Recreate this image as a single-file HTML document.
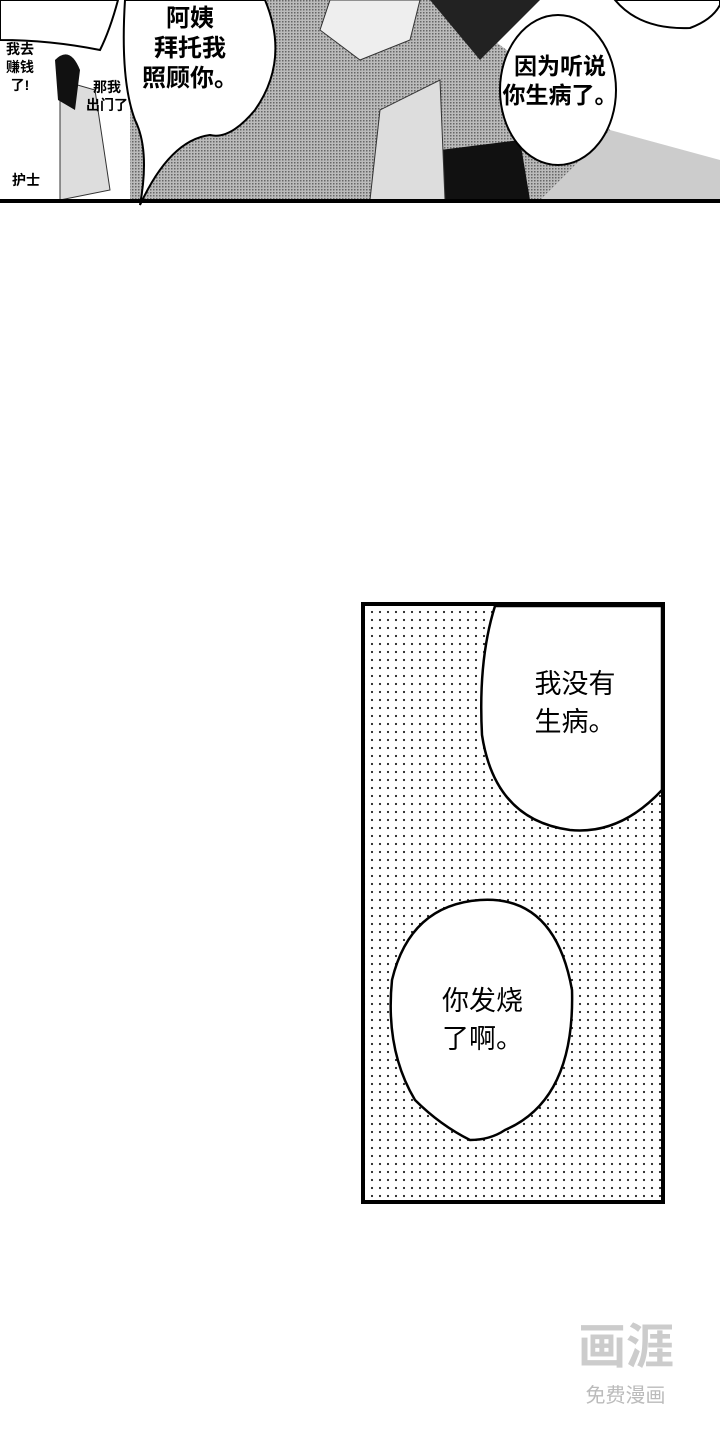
<!DOCTYPE html>
<html><head><meta charset="utf-8"><style>
body{margin:0;width:720px;height:1440px;background:#fff;position:relative;overflow:hidden;font-family:"Liberation Sans","Noto Sans CJK SC",sans-serif}
.t{position:absolute;color:#000;font-weight:bold;text-align:center;line-height:1.25;white-space:nowrap}
</style></head><body>
<svg width="720" height="1440" style="position:absolute;left:0;top:0">
<defs>
<pattern id="g" width="3" height="3" patternUnits="userSpaceOnUse"><rect width="3" height="3" fill="#bbb"/><rect width="1.5" height="1.5" fill="#666"/></pattern>
<pattern id="d" width="8" height="8" patternUnits="userSpaceOnUse"><rect width="8" height="8" fill="#fff"/><circle cx="4" cy="4" r="1.1" fill="#222"/></pattern>
</defs>
<rect x="0" y="0" width="720" height="200" fill="#fff"/>
<path d="M130 0 L440 0 L520 60 L600 120 L680 200 L130 200 Z" fill="url(#g)"/>
<path d="M430 0 L540 0 L480 60 Z" fill="#222"/>
<path d="M440 150 L520 140 L530 200 L440 200 Z" fill="#111"/>
<path d="M330 0 L420 0 L410 40 L360 60 L320 30 Z" fill="#eee" stroke="#333"/>
<path d="M380 110 L440 80 L445 200 L370 200 Z" fill="#ddd" stroke="#333"/>
<path d="M60 80 L95 90 L110 190 L60 200 Z" fill="#ddd" stroke="#333"/>
<path d="M55 60 Q70 45 80 70 L75 110 L58 100 Z" fill="#111"/>
<path d="M610 130 L720 160 L720 200 L540 200 Z" fill="#ccc"/>
<path d="M0 0 L118 0 Q110 30 100 50 Q50 40 0 40 Z" fill="#fff" stroke="#000" stroke-width="2"/>
<path d="M125 0 L265 0 Q290 60 255 110 Q230 140 210 135 Q170 140 140 205 Q150 150 135 120 Q120 80 125 0 Z" fill="#fff" stroke="#000" stroke-width="2"/>
<ellipse cx="558" cy="90" rx="58" ry="75" fill="#fff" stroke="#000" stroke-width="2"/>
<path d="M615 0 Q640 30 690 28 Q712 20 720 5 L720 0 Z" fill="#fff" stroke="#000" stroke-width="2"/>
<rect x="0" y="199" width="720" height="4" fill="#000"/>
<rect x="363" y="604" width="300" height="598" fill="url(#d)" stroke="#000" stroke-width="4"/>
<path d="M495 606 L662 606 L662 790 Q620 835 570 830 Q495 820 482 735 Q478 660 495 606 Z" fill="#fff" stroke="#000" stroke-width="2.5"/>
<path d="M480 900 Q555 895 572 990 Q575 1100 505 1130 Q490 1140 470 1140 Q440 1125 415 1100 Q385 1050 392 980 Q410 905 480 900 Z" fill="#fff" stroke="#000" stroke-width="2.5"/>
</svg>
<div class="t" style="left:140px;top:4px;font-size:24px;width:100px">阿姨<br>拜托我<br>照顾你。</div>
<div class="t" style="left:500px;top:52px;font-size:23px;width:120px">因为听说<br>你生病了。</div>
<div class="t" style="left:0px;top:40px;font-size:14px;width:40px;line-height:1.3">我去<br>赚钱<br>了!</div>
<div class="t" style="left:82px;top:78px;font-size:14px;width:50px;line-height:1.3">那我<br>出门了</div>
<div class="t" style="left:6px;top:172px;font-size:14px;width:40px">护士</div>
<div class="t" style="left:515px;top:666px;font-size:27px;width:120px;font-weight:normal;line-height:1.4">我没有<br>生病。</div>
<div class="t" style="left:420px;top:983px;font-size:27px;width:125px;font-weight:normal;line-height:1.4">你发烧<br>了啊。</div>
<div class="t" style="left:566px;top:1318px;font-size:48px;color:#ccc;width:120px">画涯</div>
<div class="t" style="left:568px;top:1384px;font-size:20px;color:#bbb;width:115px;font-weight:normal">免费漫画</div>
</body></html>
